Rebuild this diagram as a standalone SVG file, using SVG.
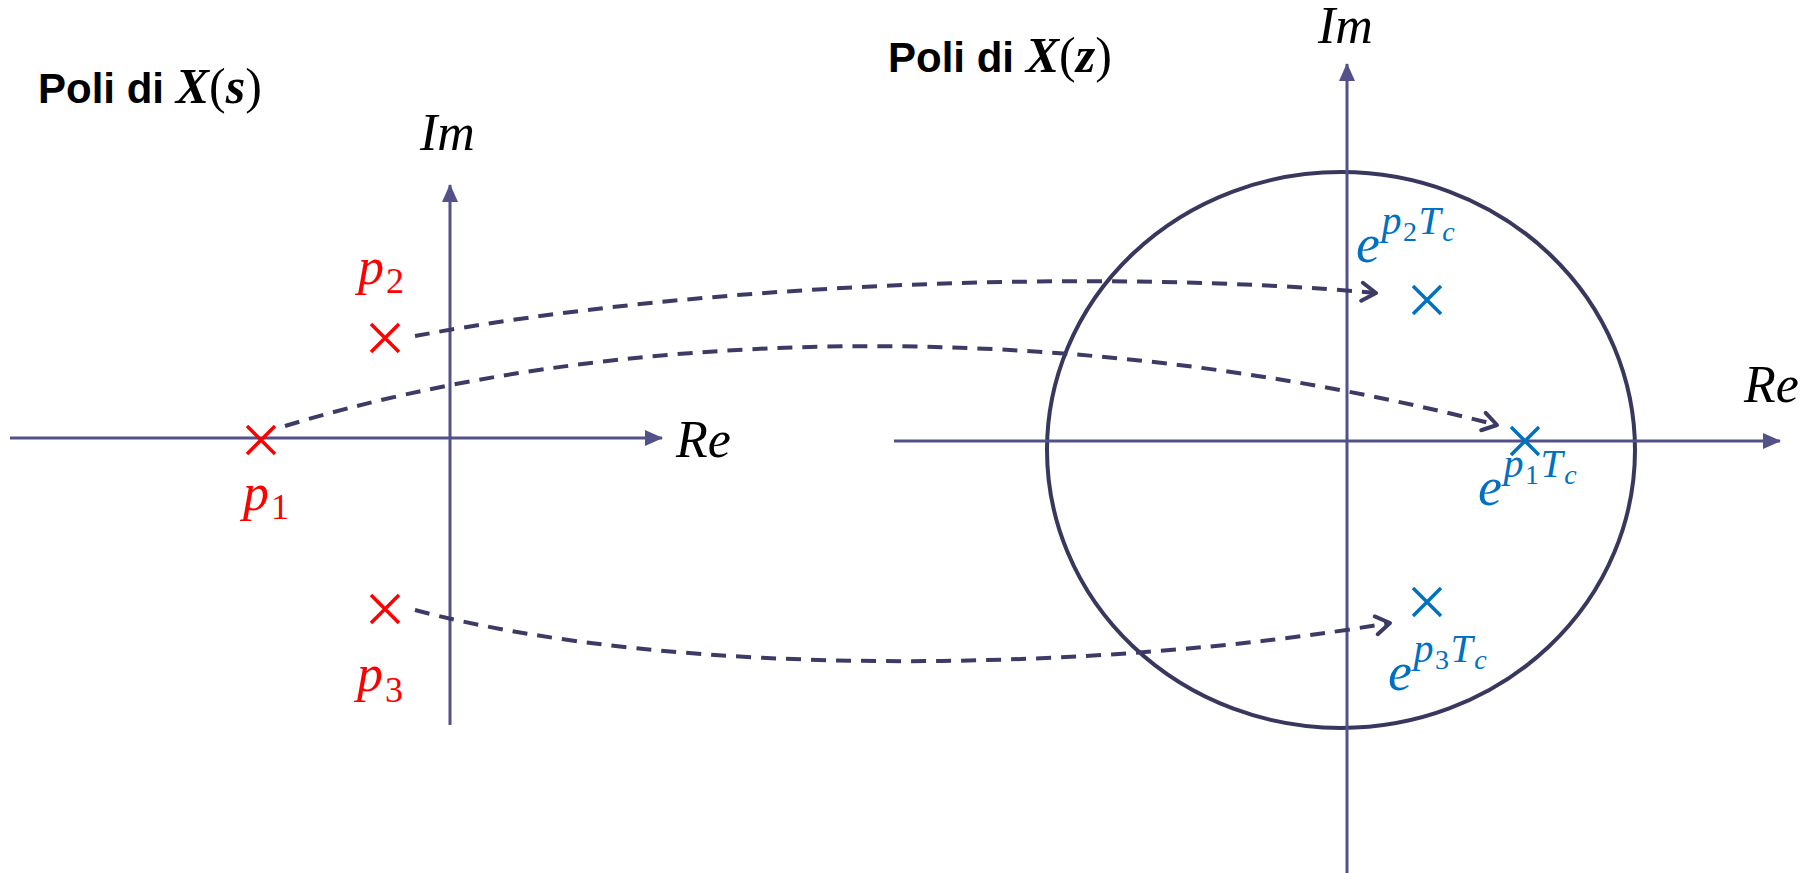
<svg xmlns="http://www.w3.org/2000/svg" width="1816" height="873" viewBox="0 0 1816 873">
<style>
.axis{stroke:#525289;stroke-width:3;fill:none}
.conn{stroke:#3b3b66;stroke-width:4;fill:none;stroke-dasharray:15 10}
.ell{stroke:#38385f;stroke-width:4;fill:none}
.xr{stroke:#ff0000;stroke-width:3.5}
.xb{stroke:#0070c0;stroke-width:3.5}
.math{font-family:"Liberation Serif",serif;font-style:italic;font-size:52px;fill:#000}
.red{font-family:"Liberation Serif",serif;font-style:italic;font-size:52px;fill:#ff0000;letter-spacing:2px}
.blue{font-family:"Liberation Serif",serif;font-style:italic;font-size:54px;fill:#0070c0;letter-spacing:1.5px}
.sub{font-style:normal;font-size:36px}
.sup{font-size:40px}
.ssub{font-size:28px}
.title{font-family:"Liberation Sans",sans-serif;font-weight:bold;font-size:42px;fill:#000}
.tm{font-family:"Liberation Serif",serif;font-style:italic;font-weight:bold;font-size:50px}
.tp{font-family:"Liberation Serif",serif;font-weight:normal;font-size:50px}
</style>
<defs>
<marker id="tri" viewBox="0 0 18 18" refX="17" refY="9" markerWidth="18" markerHeight="18" markerUnits="userSpaceOnUse" orient="auto">
<path d="M0,1 L18,9 L0,17 Z" fill="#525289"/>
</marker>
<marker id="open" viewBox="0 0 20 24" refX="17" refY="12" markerWidth="20" markerHeight="24" markerUnits="userSpaceOnUse" orient="auto">
<path d="M3,3 L17,12 L3,21" fill="none" stroke="#3b3b66" stroke-width="4" stroke-linecap="round" stroke-linejoin="round"/>
</marker>
</defs>
<rect width="1816" height="873" fill="#fff"/>

<g id="title-s"><text class="title" x="38" y="103">Poli di <tspan class="tm">X</tspan><tspan class="tp">(</tspan><tspan class="tm">s</tspan><tspan class="tp">)</tspan></text></g>
<g id="title-z"><text class="title" x="888" y="72">Poli di <tspan class="tm">X</tspan><tspan class="tp">(</tspan><tspan class="tm">z</tspan><tspan class="tp">)</tspan></text></g>

<g id="s-plane">
<line class="axis" x1="10" y1="438" x2="662" y2="438" marker-end="url(#tri)"/>
<line class="axis" x1="450" y1="725" x2="450" y2="185" marker-end="url(#tri)"/>
<text class="math" x="676" y="457">Re</text>
<text class="math" x="420" y="150">Im</text>
</g>

<g id="z-plane">
<ellipse class="ell" cx="1341" cy="450" rx="294" ry="278"/>
<line class="axis" x1="894" y1="441" x2="1780" y2="441" marker-end="url(#tri)"/>
<line class="axis" x1="1347" y1="873" x2="1347" y2="64" marker-end="url(#tri)"/>
<text class="math" x="1744" y="402">Re</text>
<text class="math" x="1318" y="43">Im</text>
</g>

<g id="p1"><path class="xr" d="M247,426 L275,454 M275,426 L247,454"/><text class="red" x="243" y="510">p<tspan class="sub" dy="9">1</tspan></text></g>
<g id="p2"><path class="xr" d="M371,324 L399,352 M399,324 L371,352"/><text class="red" x="358" y="284">p<tspan class="sub" dy="9">2</tspan></text></g>
<g id="p3"><path class="xr" d="M371,595 L399,623 M399,595 L371,623"/><text class="red" x="357" y="691">p<tspan class="sub" dy="11">3</tspan></text></g>

<g id="z1"><path class="xb" d="M1511,427 L1539,455 M1539,427 L1511,455"/><text class="blue" x="1478" y="505">e<tspan class="sup" dy="-28">p</tspan><tspan class="ssub" font-style="normal" dy="7">1</tspan><tspan class="sup" dy="-7">T</tspan><tspan class="ssub" dy="7">c</tspan></text></g>
<g id="z2"><path class="xb" d="M1413,286 L1441,314 M1441,286 L1413,314"/><text class="blue" x="1356" y="262">e<tspan class="sup" dy="-28">p</tspan><tspan class="ssub" font-style="normal" dy="7">2</tspan><tspan class="sup" dy="-7">T</tspan><tspan class="ssub" dy="7">c</tspan></text></g>
<g id="z3"><path class="xb" d="M1413,588 L1441,616 M1441,588 L1413,616"/><text class="blue" x="1388" y="690">e<tspan class="sup" dy="-28">p</tspan><tspan class="ssub" font-style="normal" dy="7">3</tspan><tspan class="sup" dy="-7">T</tspan><tspan class="ssub" dy="7">c</tspan></text></g>

<g id="connectors">
<path class="conn" d="M415,336 C700,283 1100,268 1376,293" marker-end="url(#open)"/>
<path class="conn" d="M285,426 C600,330 1050,310 1497,425" marker-end="url(#open)"/>
<path class="conn" d="M415,610 C680,680 1100,672 1390,623" marker-end="url(#open)"/>
</g>
</svg>
